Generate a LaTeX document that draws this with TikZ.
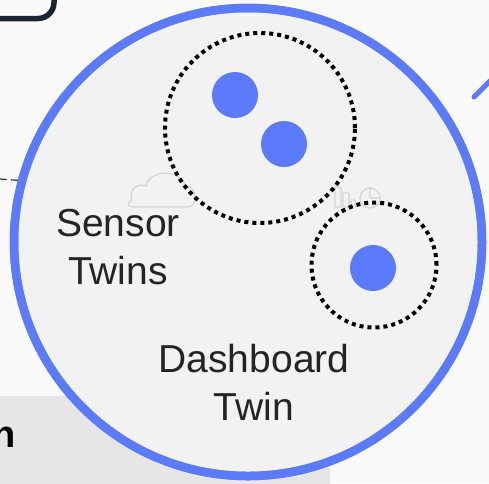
\documentclass[tikz,border=0pt]{standalone}
\usepackage{fontspec}
\setmainfont{Liberation Sans}
\definecolor{twinblue}{HTML}{5B7BFA}
\definecolor{panel}{HTML}{F2F2F2}
\definecolor{legendgray}{HTML}{E6E6E6}
\definecolor{ink}{HTML}{1B2532}
\definecolor{faint}{HTML}{D4D4D4}
\begin{document}
\begin{tikzpicture}[x=1pt,y=-1pt,line join=round,
	twinlabel/.style={font=\fontsize{39}{48}\selectfont,text=black!86,align=center,inner sep=0pt},
	group/.style={circle,draw=black,line width=4pt,dash pattern=on 4pt off 4pt,inner sep=0pt},
	sensor/.style={circle,fill=twinblue,minimum size=46pt,inner sep=0pt}]
	\useasboundingbox (0,0) rectangle (489,483);
	\clip (0,0) rectangle (489,483);
	\fill[black!2] (0,0) rectangle (489,483);
	\draw[ink,line width=5.5pt,rounded corners=16pt] (-40,-40) rectangle (54,18.5);
	\fill[legendgray] (0,396) rectangle (330,490);
	\node[anchor=base east,inner sep=0pt,font=\fontsize{38}{46}\selectfont\bfseries] (legend) at (16,447) {n};
	\node[circle,draw=twinblue,line width=8.5pt,fill=panel,minimum size=468pt,inner sep=0pt] (hub) at (248,242) {};
	\coordinate (link) at (0,179);
	\draw[black!75,line width=1.3pt,dash pattern=on 7pt off 4pt] (link) -- (hub.165);
	\draw[twinblue,line width=8.5pt] (hub) circle (234pt);
	\coordinate (tail) at (474,97);
	\draw[twinblue,line width=5pt,line cap=round] (tail) -- ++(40,-40);
	\draw[faint,line width=1.2pt] (134,207) -- (188,207) .. controls (198,207) and (198,186) .. (185,186) .. controls (183,170) and (150,168) .. (146,186) .. controls (136,182) and (128,192) .. (132,200) .. controls (126,204) and (128,207) .. (134,207);
	\draw[faint,line width=1.2pt] (335,187) rectangle (341,207) (343,193) rectangle (349,207) (351,200) rectangle (355,207) (370,198) circle (10pt) (370,198) -- (370,188) (370,198) -- (380,198);
	\node[group,minimum size=190pt] (grpA) at (260,128) {};
	\node[group,minimum size=125pt] (grpB) at (374,265) {};
	\foreach \n/\p in {s1/{235,95},s2/{284,144},s3/{373,268}}
	\node[sensor] (\n) at (\p) {};
	\node[twinlabel] (sensors) at (118,247) {Sensor\\Twins};
	\node[twinlabel] (dash) at (254,382) {Dashboard\\Twin};
\end{tikzpicture}
\end{document}
